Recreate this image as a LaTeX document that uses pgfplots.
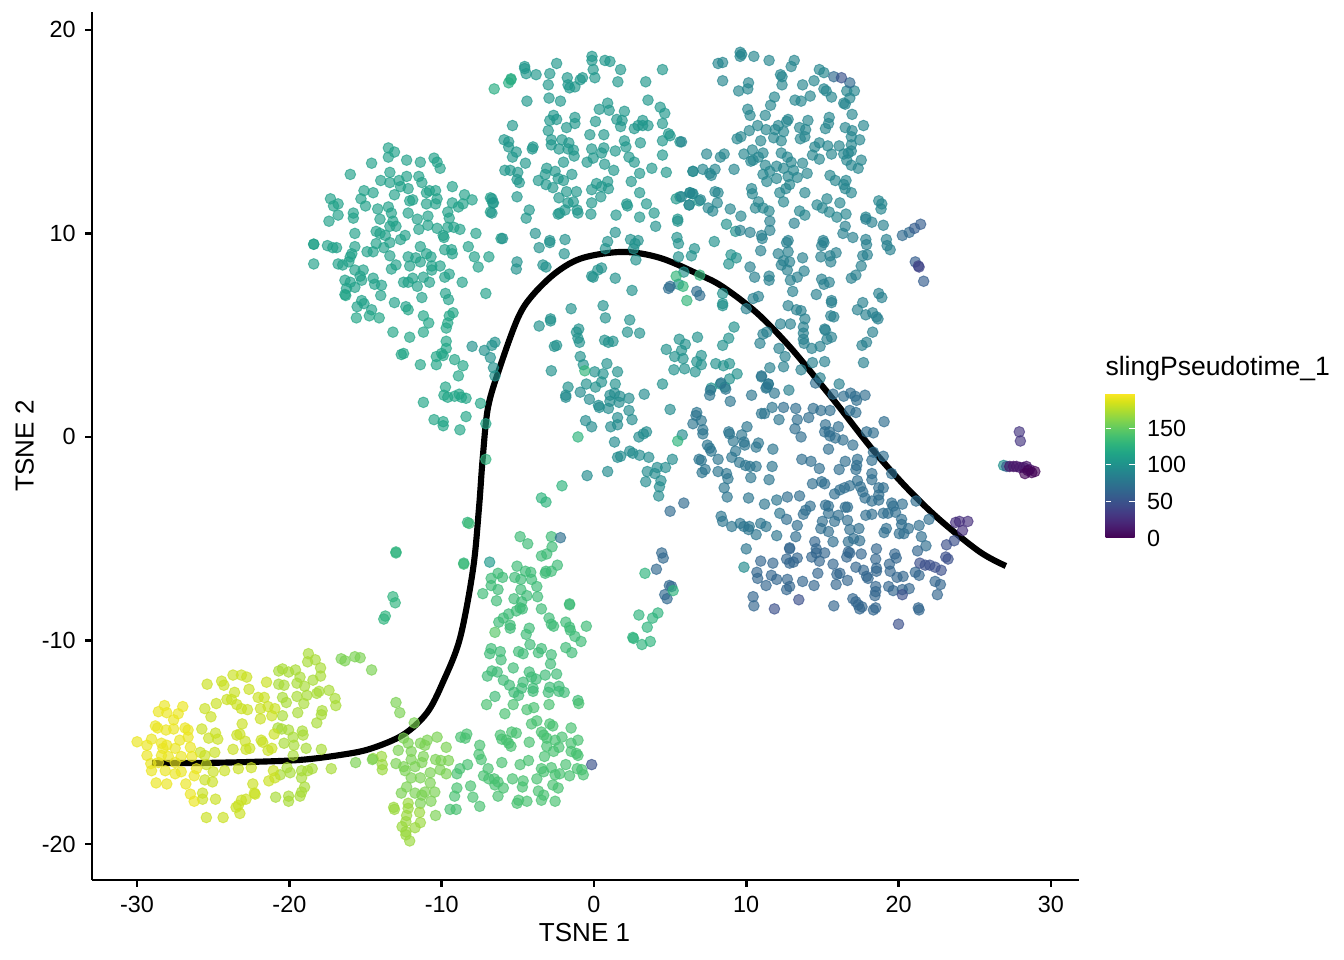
\documentclass[border=0pt]{standalone}
\usepackage{fontspec}
\setmainfont{Liberation Sans}
\usepackage{pgfplots}
\pgfplotsset{compat=1.18}
\def\px{0.375bp}
\pgfplotsset{pts/.style={scatter,only marks,mark=*,point meta=#1,
  scatter/use mapped color={draw=mapped color,fill=mapped color},
  mark size=2bp,
  mark options={line width=0.35bp,opacity=0.65}}}
\begin{document}
\begin{tikzpicture}
\useasboundingbox (-92*\px,-80*\px) rectangle (1252*\px,880*\px);
\begin{axis}[
  name=main,
  at={(0,0)},anchor=south west,
  scale only axis,
  width=987*\px,height=868*\px,
  xmin=-32.96,xmax=31.85,ymin=-21.77,ymax=20.88,
  axis x line*=bottom,axis y line*=left,
  axis line style={line width=0.95bp,-},
  xtick={-30,-20,-10,0,10,20,30},
  ytick={-20,-10,0,10,20},
  tick style={line width=0.95bp,black},
  major tick length=2.6bp,
  tick align=outside,
  /pgf/number format/assume math mode=true,
  ticklabel style={font=\fontsize{8.8}{10}\selectfont},
  xlabel={TSNE 1},ylabel={TSNE 2},
  label style={font=\fontsize{9.8}{12}\selectfont},
  xlabel style={at={(axis description cs:0.499,0)},anchor=north,yshift=-12.7bp},
  ylabel style={at={(axis description cs:0,0.5)},anchor=south,yshift=18.3bp},
  clip=false,
  colormap/viridis,
  point meta min=0,point meta max=198,
  colorbar,
  colorbar style={
    at={(991*\px,342*\px)},anchor=south west,
    width=29*\px,height=145*\px,
    ytick={0,50,100,150},
    axis line style={draw=none},
    tick style={white,line width=0.35bp},
    major tick length=2.1bp,
    tick align=inside,
    ytick pos=both,
    yticklabel pos=right,
    /pgf/number format/assume math mode=true,
    ticklabel style={font=\fontsize{8.8}{10}\selectfont},
    yticklabel style={xshift=1.1bp},
  },
]
% left cluster, upper part
\addplot[pts=112] coordinates {
(-13.5,14.2)(-13.1,14.0)(-13.5,13.75)(-12.3,13.6)(-11.4,13.5)(-14.6,13.45)(-10.5,13.7)(-10.3,13.5)(-10.1,13.2)(-16.0,12.9)
(-13.4,13.0)(-12.3,12.8)(-14.0,12.6)(-12.8,12.6)(-11.5,12.8)(-13.4,12.5)(-11.3,12.5)(-12.2,12.2)(-12.7,12.3)(-9.3,12.3)
(-15.1,12.1)(-14.5,12.0)(-13.1,11.9)(-11.0,12.0)(-10.8,12.1)(-10.4,12.1)(-17.3,11.7)(-16.8,11.45)(-17.1,11.35)(-15.3,11.7)
(-15.0,11.35)(-12.1,11.6)(-11.9,11.65)(-11.0,11.45)(-10.4,11.45)(-10.3,11.7)(-9.3,11.5)(-8.5,11.9)(-8.0,11.65)(-8.9,11.3)
(-8.6,11.45)(-6.8,11.75)(-6.65,11.5)(-6.8,11.05)(-16.8,10.9)(-17.4,10.6)(-15.8,11.0)(-15.8,10.75)(-14.2,11.2)(-13.5,11.3)
(-13.3,11.0)(-14.05,10.7)(-12.2,11.0)(-11.6,10.7)(-10.9,10.85)(-10.9,10.4)(-9.6,11.05)(-9.5,10.75)(-13.2,10.6)(-13.4,10.35)
(-13.0,10.35)(-10.3,10.25)(-11.5,10.2)(-9.6,10.3)(-9.2,10.3)(-8.8,10.2)(-15.7,10.0)(-14.3,10.1)(-14.05,10.0)(-13.7,9.9)
(-12.7,9.7)(-12.4,9.9)(-9.9,9.9)(-9.85,9.8)(-7.75,10.0)(-6.1,9.75)(-18.4,9.47)(-18.4,9.47)(-17.5,9.4)(-17.15,9.3)
(-16.9,9.3)(-15.7,9.35)(-14.3,9.5)(-13.4,9.55)(-13.8,9.3)(-14.9,9.1)(-14.5,9.1)(-15.9,9.0)(-11.4,9.35)(-9.8,9.2)
(-9.35,9.2)(-9.3,9.0)(-8.25,9.35)(-18.4,8.5)(-16.0,8.85)(-13.4,8.9)(-12.2,8.85)(-11.7,8.8)(-11,9.0)(-10.7,8.85)
(-7.85,8.85)(-6.9,8.85)(-16.8,8.5)(-16.5,8.45)(-16.1,8.6)(-13.0,8.45)(-13.3,8.25)(-12.1,8.4)(-11.4,8.6)(-10.65,8.4)
(-10.65,8.2)(-10.1,8.4)(-7.6,8.35)(-15.7,8.2)(-15.15,8.2)(-15.35,7.9)(-16.35,7.7)(-16.0,7.6)(-15.25,7.7)(-14.5,7.8)
(-14.4,7.5)(-13.95,7.45)(-15.7,7.35)(-16.25,7.3)(-16.35,7.0)(-12.5,7.6)(-12.2,7.6)(-11.9,7.8)(-11.2,7.85)(-11.6,7.4)
(-10.8,7.6)(-9.8,7.85)(-9.5,8.0)(-8.65,7.6)(-9.75,7.05)(-9.55,6.75)(-7.1,7.05)(-14,6.95)(-15.25,6.7)(-15.1,6.55)
(-15.55,6.4)(-14.6,6.25)(-13.1,6.6)(-12.35,6.4)(-11.3,6.85)};
% left cluster, lower part
\addplot[pts=116] coordinates {
(-16.3,6.95)(-14.75,5.95)(-14.1,5.85)(-15.6,5.85)
(-12.2,6.25)(-9.25,6.1)(-9.5,5.95)(-9.6,5.6)(-9.7,5.35)(-11.2,5.95)(-10.85,5.6)(-11.2,5.15)
(-13.2,5.15)(-12.1,4.9)(-9.7,4.7)(-9.7,4.35)(-10,4.1)(-10.35,3.95)(-9.9,4.0)(-12.65,4.05)(-12.5,4.1)(-11.4,3.55)
(-10.35,3.55)(-9.15,3.8)(-8.6,3.5)(-8.9,3.0)(-9.75,2.45)(-9.85,2.05)(-9.6,1.95)(-9.15,2.0)(-8.85,2.1)(-8.7,1.95)
(-8.4,1.9)(-11.2,1.7)(-7.45,1.65)(-8.4,1.0)(-10.5,0.85)(-9.9,0.75)(-9.9,0.55)(-8.8,0.35)(-7.1,0.65)};
\addplot[pts=100] coordinates {
(-8,4.45)(-7.2,4.25)(-6.7,4.5)(-6.5,4.65)(-6.8,3.9)(-6.6,3.4)(-6.5,3.0)};
\addplot[pts=128] coordinates {(-7.1,-1.1)(-8.3,-4.2)(-8.55,-6.2)(-13,-5.65)(-13,-5.7)(-13.2,-7.85)(-13.05,-8.15)(-13.8,-8.95)(-13.7,-8.8)};
% top middle
\addplot[pts=104] coordinates {
(-0.13,18.7)(-0.13,18.5)(.72,18.5)(1.05,18.45)(-2.45,18.35)(-4.55,18.2)(-4.55,18.1)(-4.45,17.85)(-3.8,17.8)(-2.9,17.85)
(-.05,18.05)(1.75,18.05)(4.5,18.05)(-1.75,17.65)(-.75,17.65)(-.9,17.55)(.06,17.65)(1.57,17.45)(3.4,17.45)(-3,17.3)
(-1.7,17.3)(-1.6,17.15)(-1.25,17.2)(-2.95,16.65)(-2.2,16.5)(-4.4,16.5)(3.55,16.55)(.9,16.4)(.35,16.1)(1,16.05)
(2,16)(4.35,16.2)(4.65,15.9)(-2.65,15.8)(-2.9,15.55)(-2.45,15.6)(-1.25,15.7)(-1.25,15.4)(.1,15.5)(1.5,15.6)
(1.85,15.55)(1.75,15.25)(3.2,15.55)(2.9,15.3)(2.65,15.15)(3.2,15.3)(3.55,15.3)(4.5,15.4)(-5.35,15.3)(-3.0,15.05)
(-1.8,15.2)(-.27,14.85)(.65,14.85)(4.9,14.9)(5,14.8)(5.65,14.5)(4.5,14.55)(3.05,14.45)(2,14.55)(-5.9,14.6)
(-5.6,14.5)(-2.8,14.6)(-2.1,14.6)(-1.65,14.45)(-5.6,14.25)(-4,14.25)(-4.05,14.15)(-2.8,14.35)(-2.3,14.15)(-1.7,14.15)
(-1.35,14.1)(-.15,14.15)(.65,14.2)(1.4,14.05)(2.1,14.25)(-5.1,14)(-5.35,13.75)(-1.3,13.8)(.5,13.95)(-.05,13.7)
(-.45,13.5)(-2,13.5)(2.3,13.75)(2.65,13.5)(4.5,13.85)(-4.5,13.45)(.7,13.4)(-5.85,13.1)(-5.5,13.1)(-3.1,13.2)
(-5,13)(-3.2,12.9)(-2.55,13.05)(-1.45,12.9)(1.3,13.1)(3.8,13.2)(3,12.95)(4.75,13)(6.5,13.05)(-2.35,12.7)
(-3.65,12.6)(-5.05,12.65)(-4.9,12.5)(-2,12.6)(-3.15,12.4)(-2.7,12.25)(.17,12.45)(.9,12.55)(2.45,12.55)(.5,12.3)
(.95,12.2)(-.15,12.15)(-1.8,12.05)(-1.15,12.05)(3,12)(-5.05,11.8)(-2.3,11.75)(.45,11.8)(-6.7,11.7)(-6.6,11.5)
(5.4,11.7)(5.65,11.8)(6.3,12)(6.45,11.95)(-1.35,11.55)(-1.7,11.5)(-.15,11.5)(2.15,11.45)(2.2,11.35)(3.45,11.45)
(6.25,11.4)(6.9,11.6)(-4.25,11.15)(-6.7,11)(-1.9,11.15)(-1.1,11.15)(-1.05,11)(-2.25,11)(-2.35,10.95)(-.2,10.95)
(1.45,10.9)(3.95,11)(-4.45,10.75)(3,10.8)(5.5,10.7)};
\addplot[pts=122] coordinates {(-5.45,17.6)(-5.6,17.4)(-6.55,17.1)(-5.45,17.55)};
% top right
\addplot[pts=90] coordinates {
(9.6,18.9)(9.7,18.8)(9.6,18.7)(10.5,18.7)(11.5,18.5)(13.15,18.5)(12.95,18.2)(8.45,18.4)(8.15,18.35)(14.8,18.05)
(15.1,17.9)(8.45,17.5)(10.15,17.4)(10.1,17.1)(9.5,17)(12.25,17.8)(12.35,17.7)(12.35,17.3)(13.7,17.3)(14.45,17.5)
(15.1,17.1)(15.25,17)(15.6,16.7)(16.6,17)(17.1,17)(16.8,16.65)(14.2,16.75)(13.2,16.55)(13.6,16.5)(11.85,16.7)
(11.6,16.3)(16.4,16.4)(16.5,16.35)(10.1,16.1)(10.25,15.8)(11.25,15.8)(16.95,15.85)(12.75,15.6)(12.65,15.5)(14.05,15.55)
(15.45,15.7)(15.4,15.4)(15.2,15.15)(10.75,15.3)(11.3,15.1)(12.1,15.3)(11.9,15.1)(12.45,15)(10.2,15.05)(9.65,14.75)
(9.4,14.65)(13.5,15.2)(13.9,15.1)(13.85,14.75)(13.55,14.65)(16.5,15.2)(16.95,15.05)(17.7,15.3)(11.8,14.7)(10.95,14.55)
(12.3,14.55)(16.9,14.75)(17.45,14.6)(5.75,14.5)(14.8,14.45)(14.5,14.25)(15.35,14.3)(16.1,14.3)(16.9,14.35)(10.4,14.1)
(11.1,13.95)(9.85,13.9)(12.3,13.95)(12.7,13.75)(14.35,13.85)(14.8,13.65)(15.6,13.9)(16.4,13.9)(16.7,13.95)(16.9,14.05)
(7.4,13.9)(8.55,13.9)(8.3,13.75)(10.8,13.75)(10.3,13.55)(10.45,13.6)(16.6,13.6)(17.55,13.6)(11.25,13.35)(12.95,13.5)
(13.7,13.45)(16.9,13.35)(17.35,13.2)(6.5,13.05)(7.15,13.15)(7.6,12.95)(7.95,13.15)(7.7,12.85)(9.2,13.15)(11.99,13.3)
(12.45,13.2)(13.1,13.1)(11.1,12.9)(11.55,13.05)(11.99,12.7)(11.35,12.55)(12.75,12.8)(13.35,12.75)(14,12.95)(15.5,12.85)
(15.85,12.6)(16.55,12.6)(16.4,12.4)(16.5,12.2)(12.85,12.4)(12.6,12.2)(10.35,12.2)(10.4,11.95)(13.85,12)(12.2,12)
(16.9,12)(6.3,12)(6.5,11.95)(5.75,11.8)(7,11.65)(7.95,12.05)(8.15,12)(6.25,11.4)(8.1,11.5)(10.8,11.55)
(12.45,11.55)(15.3,11.7)(16.15,11.5)(14.65,11.4)(18.7,11.6)(18.9,11.45)(18.85,11.2)(7.5,11.25)(7.8,11.1)(8.95,11.2)
(10.6,11.25)(11.1,11.25)(11.5,11.1)(13.5,11.1)(13.85,10.9)(15,11.25)(15.45,11.05)(16.55,10.95)(9.65,10.85)(15.95,10.8)
(17.85,10.8)};
\addplot[pts=68] coordinates {(15.75,17.7)(16.8,17.4)};
\addplot[pts=50] coordinates {(16.25,17.65)};
% middle, above and below the curve
\addplot[pts=100] coordinates {
(-3.85,10)(-2.9,9.65)(-2.9,9.55)(-1.9,9.7)(-3.6,9.3)(-1.95,9)(1.4,10.05)(.9,9.6)(.75,9.25)(2.4,9.7)
(2.9,9.65)(2.7,9.5)(2.6,9.25)(2.75,8.7)(4.05,10.35)(5.5,10.6)(5.45,9.8)(5.55,9.5)(7.9,9.6)(8.7,10.45)
(9.3,10.1)(6.6,9.25)(6.4,8.9)(5.55,8.85)(9,8.95)(8.85,8.5)(9.35,8.8)(-5.05,8.6)(-5.1,8.25)(-3.35,8.45)
(-3.15,8.35)(.5,8.3)(.25,8.2)(-.15,7.9)(-.05,7.85)(1.4,7.8)(2.5,7.2)(5.9,8.1)(5.55,7.5)(8.45,7.05)
(8.45,6.55)(8.45,6.45)(-1.5,6.3)(.6,6.45)(.75,5.85)(2.35,5.75)(2.2,5.15)(3,5.1)(-2.85,5.8)(-2.85,5.7)
(-3.6,5.45)(-1,5.3)(-1.15,5.15)(-1.05,4.85)(-.95,4.65)(-2.45,4.5)(-2.6,4.45)(.7,4.75)(.95,4.65)(1.25,4.7)
(-.9,3.95)(-.7,3.55)(.85,3.6)(1.55,3.2)(.05,3.2)(.6,3.1)(-2.8,3.25)(6.8,4.9)(5.6,4.8)(6,4.55)
(5.75,4.25)(4.75,4.3)(5.3,3.95)(5.85,3.85)(7.05,4)(6.75,3.7)(7.05,3.55)(5.95,3.35)(5.25,3.3)(6.65,3.2)
(8,3.6)(8.5,3.5)(8.9,3.6)(9.2,5.4)(8.85,4.85)(8.45,4.5)(9.4,3.1)(-1.7,2.45)(-.5,2.6)(.5,2.7)
(1.4,2.6)(.1,2.45)(4.5,2.6)(8.3,2.6)(8.9,2.85)(7.7,2.4)(8.6,2.45)(-6,9.75)};
\addplot[pts=130] coordinates {(5.4,7.9)(6.95,7.95)(5.85,7.4)(6.1,6.7)(-.6,3.25)};
\addplot[pts=70] coordinates {(4.9,7.3)(5,7.4)(6.75,7.15)(6.95,6.95)};
% mid right
\addplot[pts=85] coordinates {
(11,9.9)(11.05,9.75)(11.55,10.6)(11.55,10.15)(10.25,10.05)(9.6,10.15)(10.95,9.15)(12.75,9.65)(12.65,9.55)(12.75,9.1)
(12.1,9)(13.7,8.8)(12.45,8.65)(12.85,8.6)(12.3,8.45)(12.7,8.2)(13.8,8.15)(13.35,7.85)(12.9,7.7)(10.25,8.35)
(10.55,7.85)(11.5,7.9)(11.5,7.7)(13.05,7.15)(13.15,10.5)(15.05,9.65)(15.1,9.55)(14.95,9.4)(14.9,8.85)(15.5,8.9)
(15.9,9.05)(15.55,8.6)(14.95,7.75)(15.1,7.5)(15.45,7.6)(14.6,7)(15.6,6.7)(15.6,6.6)(16.5,10.35)(16.35,10)
(17,9.8)(17.85,9.7)(17.9,9.45)(17.95,8.95)(17.65,8.9)(17.55,8.4)(16.9,7.8)(17.2,7.95)(17.85,10.7)(18.25,10.55)
(19,10.4)(19.2,9.7)(19.25,9.4)(19.45,9.2)(18.7,7.05)(18.9,6.85)(17.65,6.6)(17.3,6.25)(17.85,6)(18.3,6.1)
(18.55,5.9)(18.65,5.8)(12.75,6.45)(13.3,6.25)(13.6,6.2)(13.85,5.8)(13.75,5.4)(13.75,5.1)(13.75,4.8)(13.8,4.6)
(15.55,5.95)(15.75,5.9)(15.15,5.3)(15.2,5.25)(15.6,4.9)(15.3,4.8)(14.85,4.45)(14.3,4.35)(18.3,5.15)(17.9,4.65)
(17.6,4.5)(17.7,3.65)(12.25,5.55)(12.9,5.55)(11.35,5.15)(11.1,5.05)(10.9,4.6)(12.15,4.35)(12.55,3.95)(12.45,3.45)
(11.55,3.4)(11,2.95)(11.45,2.6)(11.35,2.45)(13.6,3.3)(14.35,3.65)(15.15,3.7)(14.85,2.9)(12.8,2.3)(16.1,2.6)
(10.8,6.9)(10.45,6.8)(10,6.3)};
\addplot[pts=68] coordinates {(20.25,9.9)(20.7,10.05)};
\addplot[pts=58] coordinates {(21.05,10.25)(21.45,10.45)(21.1,8.6)(21.65,7.65)};
\addplot[pts=40] coordinates {(21.35,8.35)(21.3,8.4)};
% around the centre
\addplot[pts=95] coordinates {
(-1.85,2.05)(-1.85,1.95)(-.9,2.2)(-.3,1.85)(.3,1.55)(.35,1.45)(.95,1.4)(1.05,1.75)(1.05,2.05)(1.35,2.15)
(1.7,2)(1.65,1.7)(2.3,1.9)(3.3,2.1)(5,1.35)(2.3,1.3)(2.5,.85)(1.55,.95)(1.55,.6)(1.1,.5)
(-.55,.8)(-.15,.5)(1.35,-.25)(2.95,0)(3.25,.15)(3.45,.25)(5.8,.1)(1.75,-.95)(1.55,-1)(2.35,-.7)
(2.55,-.8)(3,-.9)(3.6,-1)(5.15,-1.1)(4.7,-1.5)(4.15,-1.5)(3.5,-1.7)(4,-1.8)(3.4,-2.2)(4.4,-2.15)
(4.3,-2.45)(4.25,-2.9)(.9,-1.7)(-.45,-1.9)};
\addplot[pts=128] coordinates {(-1.05,0)(5.5,-.2)(-2.1,-2.4)(-3.45,-3)(-3.15,-3.2)};
\addplot[pts=68] coordinates {(5.9,-3.25)(5,-3.65)};
\addplot[pts=76] coordinates {
(6.75,1.2)(6.7,1.05)(6.5,.65)(7.05,.8)(7.15,.35)(7.15,.15)(7.45,-.4)(7.6,-.55)(7.7,-.7)(8.15,-1.1)
(6.9,-1.1)(7.05,-1.15)(7.3,-1.6)(7.1,-1.75)(8.15,-1.7)(8.7,-1.8)(8.8,-2.05)(8.55,-2.5)(8.75,-2.95)(7.65,2.3)
(7.6,2.05)(8.35,2.65)(8.65,2.35)(8.95,1.75)(10.35,2.05)(11,3)(11.3,2.4)(11.45,2.6)(11.85,2.15)(11.7,1.45)
(11,1.15)(11.2,1.15)(12.15,.85)(10.05,.5)(8.85,.25)(8.9,.15)(9.7,.1)(9.15,-.2)(9.85,-.25)(9.9,-.4)
(10.8,-.3)(10.65,-.5)(11.75,-.6)(9.3,-.7)(9.05,-1)(9.55,-1.25)(9.95,-1.4)(10.25,-1.45)(10.65,-1.45)(11.7,-1.45)
(10.3,-2)(11.5,-2.1)(10.15,-3)(11.2,-3.3)(12,-3.1)(12.2,-3.75)(8.35,-3.9)(8.45,-4.15)(9.05,-4.4)(9.6,-4.25)
(9.85,-4.4)(10.2,-4.4)(10.15,-4.55)(10.65,-4.8)(10.95,-4.25)(11.3,-4.4)(12,-4.85)(10,-5.5)};
% lower right
\addplot[pts=70] coordinates {
(14.55,2.65)(15.7,2.1)(16.4,2)(16.85,2.15)(17.15,2)(17.25,1.8)(17.8,2.05)(12.45,1.45)
(13.25,1.4)(14.4,1.4)(14.9,1.3)(15.5,1.3)(16.8,1.3)(17.2,1.2)(13.35,.85)(14.1,.95)(19.05,.75)
(15.2,.6)(16.05,.5)(13.2,.4)(13.6,.0)(15.15,.25)(15.45,.25)(15.5,.05)(15.85,-.05)(16.35,-.15)(17,-.4)
(17.9,.25)(18.35,.2)(15.4,-.6)(13.65,-1.1)(14.25,-1.2)(14.8,-1.55)(16.1,-1.6)(16.5,-1.2)(17.3,-1.1)(17.25,-1.4)
(17.2,-1.6)(18.35,-.75)(19,-.95)(18.25,-1.15)(18.25,-1.8)(18.25,-2.1)(19.55,-1.8)(14.35,-2.3)(14.95,-2.2)(15.15,-2.3)
(16.8,-2.4)(17.3,-2.15)(16.45,-2.5)(16.15,-2.6)(15.8,-2.8)(17.5,-2.45)(17.65,-2.7)(17.8,-3)(18.7,-2.5)(19,-2.5)
(18.7,-2.85)(18.7,-3.1)(18.25,-3.15)(13.5,-2.9)(12.7,-2.95)(21.15,-3.15)(20.25,-3.3)(19.55,-3.25)(19.65,-3.4)
(15.2,-3.35)(15.4,-3.4)(14.2,-3.4)(13.9,-3.6)(13.75,-3.8)(12.65,-4.05)(15.4,-3.75)(16.05,-3.85)
(16.5,-3.45)(16.65,-3.45)(15.8,-4.15)(16.65,-4.1)(15,-4.15)(14.9,-4.5)(15.4,-4.65)(17.85,-3.85)(18.25,-3.8)(19,-3.75)
(19.3,-3.75)(19.8,-3.7)(20.2,-4.05)(20.2,-4.3)(19.2,-4.5)(19.05,-4.7)(20.05,-4.75)(20.35,-4.75)(20.65,-4.5)(21.35,-4.35)
(22,-4.05)(13.35,-4.35)(13.25,-4.9)(16.8,-4.55)(17.4,-4.5)(17.05,-5)(17.45,-5.1)(15.7,-5.15)(16.7,-5.15)
(21.5,-4.9)(21.8,-5.35)};
\addplot[pts=64] coordinates {
(12.85,-5.45)(12.85,-5.5)(14.5,-5.15)(14.6,-5.5)(14.6,-5.7)(15.15,-5.7)(14.3,-5.9)(14.8,-6.1)(13.35,-5.95)(13.1,-6.15)
(12.85,-6.2)(12.65,-6.0)(16.7,-5.65)(16.8,-5.7)(16.6,-5.9)(17.55,-5.75)(18.55,-5.5)(18.5,-6)(21.25,-5.6)(19.75,-5.75)
(19.85,-5.95)(10.95,-6.1)(11.75,-6.2)(10.7,-6.65)(10.75,-6.95)(11.65,-6.8)(11.3,-7.3)(12,-7)(12.7,-7)(12.85,-7.35)
(12.65,-7.5)(13.7,-7.1)(14.45,-7.3)(14.7,-6.7)(15.7,-6.25)(16.15,-6.7)(15.95,-6.75)(15.9,-7.25)(16.65,-7.05)(17.2,-6.4)
(17.7,-6.55)(18.55,-6.45)(18.55,-6.6)(17.9,-6.85)(18,-6.95)(19.4,-6.25)(19.45,-6.6)(19.9,-6.9)(20.3,-6.85)(19.35,-7.35)
(18.5,-7.35)(18.5,-7.6)(18.45,-7.8)(19.65,-7.55)(20.25,-7.5)(20.7,-7.45)(21.1,-6.65)(21.35,-6.8)(22.4,-7.1)(22.75,-7.25)
(22.55,-7.75)(10.45,-7.85)(10.5,-8.3)(15.75,-8.3)(17,-7.95)(17.2,-8.1)(17.35,-8.25)(17.6,-8.35)(17.45,-8.45)(18.35,-8.5)
(18.5,-8.4)(21.3,-8.4)(21.35,-8.5)};
\addplot[pts=48] coordinates {
(23.15,-5.3)(23.65,-5.1)(23.1,-5.9)(23.25,-6)(20.25,-7.75)(21.4,-6.2)(21.75,-6.3)(22.05,-6.3)(22.4,-6.4)(22.8,-6.55)
(11.85,-8.45)(13.45,-8)(20,-9.2)};
\addplot[pts=26] coordinates {(23.75,-4.2)(24,-4.15)(24.55,-4.15)(24.2,-4.6)};
\addplot[pts=95] coordinates {(9.85,-6.4)};
% cluster below the curve
\addplot[pts=135] coordinates {
(-8.2,-4.25)(-4.85,-4.9)(-4.35,-5.25)(-2.8,-4.9)(-2.75,-5.4)(-3.45,-5.85)(-3.1,-5.75)(-8.55,-6.25)(-5.05,-6.35)(-4.5,-6.6)
(-4.15,-6.65)(-6.3,-6.7)(-6.75,-6.95)(-5.2,-6.9)(-4.8,-7)(-6,-6.9)(-4.1,-7)(-3.15,-6.6)(-3.2,-6.7)(-2.8,-6.6)
(-2.4,-6.3)(-6.75,-7.3)(-6.3,-7.5)(-7.3,-7.7)(-3.75,-7.35)(-4.8,-7.5)(-3.7,-7.85)(-4.4,-7.8)(-5.25,-7.95)(-6.4,-8.05)
(-4.75,-8.1)(-5.1,-8.55)(-4.85,-8.4)(-4.7,-8.45)(-1.6,-8.2)(-1.6,-8.25)(-3.45,-8.45)(-5.6,-8.7)(-5.95,-8.9)(-6.25,-9.1)
(-5.5,-9.25)(-5.5,-9.4)(-4.25,-9.4)(-4.45,-9.7)(-2.95,-8.9)(-2.8,-9.2)(-2.65,-9.3)(-1.85,-9.1)(-1.6,-9.35)(-1.55,-9.5)
(-.5,-9.3)(-1.25,-9.8)(-.85,-10.05)(-6.75,-10.4)(-6.85,-10.65)(-6.15,-10.55)(-6.1,-10.95)(-4.2,-10.2)(-4.95,-10.55)(-4.65,-10.65)
(-3.45,-10.4)(-3.65,-10.6)(-2.8,-10.7)(-2.85,-11.15)(-1.85,-10.35)(-1.45,-10.6)(-5.3,-11.35)(-6.7,-11.5)(-6.35,-11.55)(-7,-11.75)
(-4.25,-11.55)(-4.1,-11.8)(-3.8,-11.9)(-3.2,-11.7)(-2.45,-11.65)(-5.95,-11.95)(-5.55,-12.2)(-4.65,-12.05)(-4.75,-12.35)(-4,-12.35)
(-4,-12.5)(-2.9,-12.3)(-3,-12.55)(-2.3,-12.25)(-2.3,-12.5)(-1.95,-12.55)(-5.25,-12.55)(-4.95,-12.7)(-6.5,-12.75)(-1.05,-12.95)};
\addplot[pts=106] coordinates {(-6.85,-6.15)};
\addplot[pts=72] coordinates {(-2.2,-4.95)};
\addplot[pts=146] coordinates {(-6.5,-9.6)};
% small group right of the cluster
\addplot[pts=66] coordinates {(4.45,-5.7)(4.55,-5.95)(4.1,-6.5)(4.95,-7.3)(5.1,-7.35)(4.65,-7.75)(4.8,-7.95)};
\addplot[pts=128] coordinates {(3.35,-6.7)(5.2,-7.55)(4.2,-8.65)(3.85,-8.9)(2.95,-8.75)(3.5,-9.35)(2.55,-9.85)(2.6,-9.9)(3.15,-10.2)(3.7,-10.05)};
% bottom, right half
\addplot[pts=140] coordinates {
(-7.05,-13.15)(-5.3,-13.15)(-4.4,-13.4)(-3.95,-13.3)(-2.95,-13.15)(-5.85,-13.6)(-1,-13.1)
(-3.75,-13.95)(-4.1,-14.1)(-2.9,-14.1)(-2.7,-14.2)(-3.45,-14.5)(-1.5,-14.3)(-8.35,-14.6)(-8.75,-14.75)(-8.45,-14.8)(-6.15,-14.65)
(-5.4,-14.5)(-5.1,-14.55)(-5.75,-14.9)(-5.6,-15.05)(-5.45,-15.2)(-6.05,-14.85)(-4.25,-15)(-3.1,-14.8)(-2.1,-14.75)(-3.3,-14.65)
(-1.05,-14.9)(-1.5,-15.05)(-2.55,-14.9)(-3.1,-15.2)(-2.3,-15.25)(-2.65,-15.45)(-3.25,-15.7)(-1.5,-15.45)(-1.15,-15.55)(-1.05,-15.65)
(-7.5,-15.15)(-7.55,-15.6)(-7.4,-15.85)(-6.05,-16)(-4.85,-16.1)(-4.3,-15.9)(-6.95,-16.3)(-8.3,-16.1)(-8.8,-16.3)(-9,-16.55)
(-7.25,-16.65)(-6.9,-16.8)(-6.55,-16.8)(-6.3,-16.95)(-6.5,-17.1)(-5.95,-17.25)(-6.3,-17.65)(-5.35,-16.8)(-4.65,-16.9)(-4.7,-17.2)
(-3.45,-16.3)(-3.3,-16.45)(-3.75,-16.8)(-2.8,-16.25)(-2.25,-16.55)(-1.85,-16.1)(-2.55,-16.6)(-1.6,-16.65)(-1.1,-16.3)(-.8,-16.35)
(-.7,-16.6)(-2.7,-17.1)(-2.35,-17.25)(-3.65,-17.4)(-3.3,-17.6)(-3.45,-17.85)(-2.55,-17.9)(-4.95,-17.85)(-5.05,-18)(-4.4,-17.9)
(-8.1,-17.15)(-9,-17.25)(-9.15,-17.65)(-7.95,-17.7)(-7.5,-18.15)(-9.45,-18.3)(-9.05,-18.3)};
\addplot[pts=50] coordinates {(-.15,-16.1)};
% bottom, left half
\addplot[pts=158] coordinates {
(-13,-13.05)(-12.75,-13.55)(-11.8,-14.05)(-12.5,-14.8)(-12.2,-15.05)(-12.85,-15.4)(-12,-15.45)(-11.4,-15.05)(-10.95,-14.9)(-11.1,-15.15)
(-10.3,-14.75)(-9.7,-15.25)(-12,-15.85)(-11.3,-16)(-11.2,-15.7)(-11.75,-16.2)(-10.4,-15.85)(-10.05,-15.9)(-9.55,-15.9)(-10.75,-16.5)
(-10.1,-16.35)(-9.7,-16.55)(-12,-16.75)(-11.4,-16.75)(-12.3,-17.2)(-10.75,-17)(-12.65,-17.5)(-11.75,-17.5)(-11.3,-17.6)(-11.1,-17.45)
(-10.45,-17.45)(-10.7,-17.9)(-11.4,-18)(-10.4,-18.6)(-13,-16.05)(-12.5,-16.2)(-12.4,-16.4)};
\addplot[pts=168] coordinates {
(-14.5,-15.8)(-13.95,-15.7)(-13.9,-16.1)(-13.9,-16.35)(-12.2,-18)(-13.15,-18.2)(-13.1,-18.3)(-12.2,-18.25)(-11.45,-18.45)(-12.3,-18.6)
(-11.4,-18.95)(-12.35,-18.9)(-11.75,-19.2)(-12.6,-19.15)(-12.35,-19.4)(-12.35,-19.55)(-12.1,-19.85)};
% yellow group
\addplot[pts=158] coordinates {(-16.6,-10.9)(-16.35,-11)(-15.7,-10.8)(-15.35,-10.85)(-14.6,-11.45)(-15.65,-16)(-14.55,-15.85)};
\addplot[pts=172] coordinates {
(-18.75,-10.65)(-18.8,-11.05)(-18.3,-10.95)(-17.95,-11.35)(-17.95,-11.75)(-20.7,-11.5)(-20.45,-11.4)(-20.05,-11.55)(-19.6,-11.45)(-19.3,-11.8)
(-20.7,-12.15)(-20.35,-12.2)(-19.5,-12.1)(-18.45,-11.95)(-19,-12.25)(-17.4,-12.45)(-18.05,-12.5)(-20.45,-12.8)(-19.5,-12.75)(-18.85,-12.7)
(-18.2,-12.6)(-17,-12.85)(-16.95,-13.2)(-20.2,-13.05)(-19.05,-13.1)(-20.45,-13.7)(-19.45,-13.55)(-17.85,-13.45)(-17.9,-13.65)(-18.2,-14.05)
(-20.75,-14.3)(-20.5,-14.35)(-20.05,-14.4)(-19.15,-14.45)(-19.1,-14.65)(-20.35,-15.05)(-19.75,-14.75)(-19.7,-15.15)(-18.9,-15.3)(-17.9,-15.35)
(-19.75,-15.65)(-20.15,-16.25)(-19.95,-16.5)(-20.6,-16.6)(-19.2,-16.4)(-18.8,-16.4)(-18.5,-16.3)(-17.25,-16.3)(-19.2,-16.75)(-19,-17.2)
(-19.2,-17.45)(-19.3,-17.65)(-20.9,-17.7)(-20.05,-17.65)(-20.05,-17.9)};
\addplot[pts=182] coordinates {
(-23.7,-11.7)(-23.15,-11.7)(-22.8,-11.8)(-25.4,-12.15)(-24.45,-12)(-24.3,-12.2)(-21.5,-12.05)(-22.65,-12.4)(-23.6,-12.55)(-24.1,-12.9)
(-23.8,-12.9)(-22.05,-12.8)(-21.65,-12.8)(-24.8,-13.1)(-23.45,-13.15)(-23.15,-13.35)(-22.75,-13.4)(-21.9,-13.35)(-21.4,-13.25)(-20.95,-13.35)
(-25.55,-13.35)(-25.15,-13.75)(-21.9,-13.85)(-21.15,-13.7)(-23.1,-14.1)(-25.75,-14.35)(-24.85,-14.55)(-23.25,-14.6)(-23.45,-14.65)(-21,-14.6)
(-25.3,-14.8)(-24.7,-14.85)(-22.9,-14.95)(-21.85,-14.9)(-21.75,-15)(-23.7,-15.35)(-22.85,-15.35)(-22.6,-15.3)(-21.4,-15.4)(-21.15,-15.3)
(-25.85,-15.5)(-25.55,-15.65)(-24.9,-15.5)(-25.55,-16.85)(-25.05,-16.95)(-25,-16.45)(-24.25,-16.4)(-23.35,-16.3)(-22.5,-16.25)(-21.05,-16.4)
(-20.95,-16.75)(-21.35,-16.9)(-22.4,-17.05)(-25.7,-17.5)(-22.3,-17.5)(-22.25,-17.55)(-25.7,-17.8)(-24.85,-17.8)(-22.85,-17.8)(-23.15,-17.85)
(-23.35,-18.1)(-23.5,-18.2)(-23.25,-18.5)(-25.45,-18.7)(-24.35,-18.7)(-25.45,-16.1)};
\addplot[pts=192] coordinates {
(-28.2,-13.2)(-27,-13.25)(-28.6,-13.5)(-28.05,-13.55)(-27.3,-13.6)(-27.6,-13.9)(-28.8,-14.2)(-28.65,-14.3)(-28.1,-14.4)(-27.6,-14.35)
(-26.85,-14.3)(-26.65,-14.4)(-30,-14.98)(-29.05,-14.85)(-29.35,-15.15)(-28.4,-15.05)(-28.05,-15.15)(-28.3,-15.3)(-27.2,-14.9)(-26.65,-14.75)
(-27.5,-15.3)(-26.5,-15.25)(-29.35,-15.65)(-28.4,-15.65)(-27.1,-15.7)(-26.4,-15.7)(-29.1,-16.05)(-29.05,-16.4)(-28.15,-16.4)(-27.5,-16.55)
(-27.1,-16.45)(-26.25,-16.65)(-28.75,-17)(-28.05,-17.05)(-26.8,-17.05)(-26.5,-17.55)(-26.25,-17.9)(-27.95,-15.7)(-27.5,-16)(-28.6,-16)
(-26.1,-16.3)};
% far right clump
\addplot[pts=30] coordinates {(27.93,.25)(28,-.2)};
\addplot[pts=100] coordinates {(26.9,-1.4)};
\addplot[pts=60] coordinates {(27.1,-1.45)};
\addplot[pts=12] coordinates {(27.3,-1.45)(27.55,-1.45)(27.75,-1.45)(27.97,-1.5)(28.2,-1.5)(28.4,-1.45)(28.6,-1.6)};
\addplot[pts=2] coordinates {(28.3,-1.8)(28.75,-1.75)(28.95,-1.7)(28.5,-1.65)};
% trajectory
\addplot[black,line width=2.3bp,smooth,tension=0.55,no marks] coordinates {
(-29.02,-16.02)(-25.87,-16.02)(-22.59,-15.97)(-19.3,-15.87)(-16.68,-15.63)(-14.71,-15.33)(-12.54,-14.64)(-10.97,-13.56)(-9.91,-12.04)
(-8.8,-9.9)(-7.94,-6.5)(-7.55,-3.5)(-7.3,-1)(-6.95,1.47)(-6.17,3.44)(-4.99,5.85)(-4.01,6.98)
(-2.43,8.11)(-.72,8.8)(1.9,9.09)(4.33,8.8)(6.96,7.96)(8.47,7.37)(10.7,6.09)(12.87,4.42)(15.04,2.46)(16.15,1.43)
(18.32,-.64)(20.55,-2.51)(22.72,-4.08)(25.34,-5.65)(27.05,-6.34)};
\end{axis}
\node[anchor=base west,inner sep=0pt,font=\fontsize{10}{12}\selectfont] at (1013*\px,504*\px) {slingPseudotime\_1};
\end{tikzpicture}
\end{document}
